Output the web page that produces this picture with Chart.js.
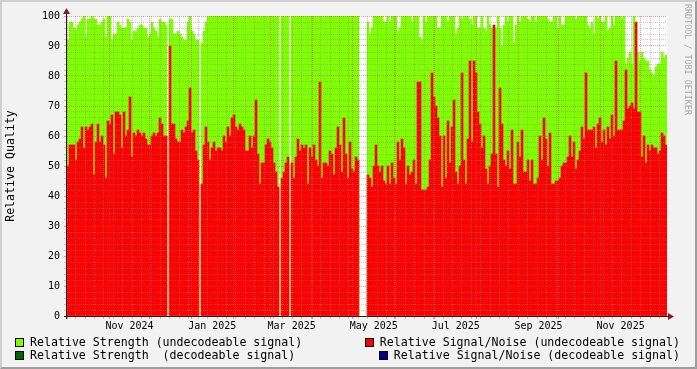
<!DOCTYPE html>
<html lang="en">
<head>
<meta charset="utf-8">
<title>Relative Quality</title>
<script src="https://cdn.jsdelivr.net/npm/chart.js@4"></script>
<style>
  body { margin: 0; background: #f2f2f2; }
  #box { position: relative; width: 697px; height: 369px; background: #f2f2f2; overflow: hidden;
         font-family: 'DejaVu Sans Mono', monospace; }
  #graph { position: absolute; left: 0; top: 0; }
  #shade { position: absolute; left: 0; top: 0; right: 0; bottom: 0; pointer-events: none;
           border: 2px solid; border-color: #cfcfcf #9e9e9e #9e9e9e #cfcfcf; }
  .leg { position: absolute; font-size: 11.6px; line-height: 14px; white-space: pre; color: #000; }
  .leg i { position: absolute; left: -15px; top: 2.5px; width: 7px; height: 7px; border: 1px solid #000; }
  #mark { position: absolute; left: 683px; top: 4px; writing-mode: vertical-rl; font-size: 8.4px;
          line-height: 9px; color: #a8a8a8; white-space: pre; }
</style>
</head>
<body>
<div id="box">
  <canvas id="graph" width="697" height="369"></canvas>
  <div id="legend"></div>
  <div id="mark">RRDTOOL / TOBI OETIKER</div>
  <div id="shade"></div>
</div>
<script>
// one value per 2px column (300 steps), null = no data
const signalNoiseUndecodeable = [
  50, 57, 57, 57, 52, 58, 59, 63, 56, 63,
  62, 63, 64, 47, 58, 64, 58, 60, 57, 46,
  65, 64, 67, 54, 68, 68, 67, 56, 68, 60,
  62, 73, 53, 61, 60, 62, 61, 60, 61, 59,
  57, 57, 60, 61, 60, 61, 66, 64, 60, 60,
  null, 90, 64, 64, 59, 58, 58, 62, 61, 63,
  65, 76, 61, 62, 55, 52, null, 44, 57, 63,
  58, 52, 56, 58, 55, 56, 56, 55, 60, 58,
  63, 60, 66, 67, 63, 62, 64, 63, 62, 55,
  55, 60, 56, 60, 72, 54, 44, 51, 51, 57,
  59, 58, 56, 51, 48, 43, null, 46, 48, 51,
  53, null, 51, 46, 53, 59, 55, 57, 56, 57,
  44, 56, 53, 57, 52, 50, 78, 46, 51, 51,
  50, 55, 54, 47, 56, 63, 57, 48, 66, 54,
  46, 58, 49, 48, 53, 52, null, null, null, null,
  47, 46, 43, 50, 57, 50, 48, 50, 45, 44,
  50, 44, 51, 46, 44, 58, 52, 59, 56, 44,
  50, 47, 48, 52, 44, 78, 78, 42, 42, 42,
  43, 52, 81, 73, 70, 66, 60, 43, 60, 46,
  65, 51, 63, 72, 48, 44, 50, 81, 52, 44,
  59, 85, 58, 85, 81, 68, 64, 56, 60, 49,
  44, 50, 54, 97, 54, 43, 76, 64, 52, 50,
  55, 49, 62, 44, 44, 58, 53, 62, 48, 48,
  52, 45, 52, 44, 44, 46, 60, 52, 66, 59,
  50, 61, 44, 44, 45, 45, 46, 50, 51, 51,
  53, 60, 53, 58, 49, 52, 55, 63, 59, 81,
  62, 62, 62, 63, 56, 64, 66, 58, 62, 57,
  63, 59, 67, 60, 85, 62, 62, 62, 65, 82,
  69, 70, 71, 69, 98, 68, 68, 53, 60, 51,
  57, 55, 57, 56, 56, 54, 55, 61, 60, 57
];
const strengthUndecodeable = [
  92, 98, 98, 96, 95, 97, 98, 99, 100, 93,
  99, 99, 100, 99, 99, 97, 97, 98, 99, 93,
  100, 100, 92, 94, 94, 98, 97, 96, 96, 96,
  99, 98, 92, 95, 95, 96, 97, 97, 96, 96,
  93, 94, 98, 96, 95, 93, 99, 98, 98, 97,
  null, 99, 99, 94, 94, 95, 94, 93, 92, 92,
  98, 100, 95, 94, 92, 92, null, 91, 95, 98,
  100, 100, 100, 100, 100, 100, 100, 100, 100, 100,
  100, 100, 100, 100, 100, 100, 100, 100, 100, 100,
  100, 100, 100, 100, 100, 100, 100, 100, 100, 100,
  100, 100, 100, 100, 100, 100, null, 100, 100, 100,
  100, null, 100, 100, 100, 100, 100, 100, 100, 100,
  100, 100, 100, 100, 100, 100, 100, 100, 100, 100,
  100, 100, 100, 100, 100, 100, 100, 100, 100, 100,
  100, 100, 100, 100, 100, 100, null, null, null, null,
  98, 94, 96, 100, 100, 100, 100, 100, 98, 98,
  100, 98, 100, 100, 100, 95, 96, 100, 100, 100,
  100, 100, 98, 100, 100, 100, 93, 92, 100, 98,
  100, 100, 100, 100, 100, 96, 96, 100, 100, 100,
  98, 100, 100, 100, 94, 96, 100, 99, 100, 100,
  100, 99, 97, 100, 100, 96, 96, 100, 96, 95,
  100, 97, 96, 96, 96, 100, 96, 90, 97, 100,
  98, 100, 100, 91, 97, 100, 98, 100, 100, 100,
  99, 98, 100, 100, 98, 100, 100, 100, 100, 100,
  99, 98, 98, 100, 100, 96, 100, 97, 97, 100,
  100, 100, 100, 100, 99, 100, 100, 100, 100, 100,
  97, 96, 98, 94, 100, 99, 100, 98, 98, 100,
  95, 96, 100, 97, 100, 100, 100, 99, 100, 84,
  86, 88, 84, 100, 98, 88, 85, 88, 86, 85,
  85, 82, 81, 80, 83, 84, 84, 88, 86, 87
];
// nothing decodeable in this period
const strengthDecodeable = [];
const signalNoiseDecodeable = [];

const xLabels = ['Nov 2024', 'Jan 2025', 'Mar 2025', 'May 2025', 'Jul 2025', 'Sep 2025', 'Nov 2025'];
const yTicks = [];
for (let v = 0; v <= 100; v += 2) yTicks.push(v);

// x axis in days since 1 Oct 2024
const DAY0 = Date.UTC(2024, 9, 1);
const spanStart = -0.5, spanEnd = 445.5;
const stepDays = (spanEnd - spanStart) / signalNoiseUndecodeable.length;

const monthStarts = [];
for (let m = 9; m <= 23; m++) monthStarts.push((Date.UTC(2024, m, 1) - DAY0) / 864e5);
const weekStarts = [];
for (let d = 6; d < spanEnd; d += 7) if (!monthStarts.includes(d)) weekStarts.push(d);

const toPoints = arr => arr.map((v, i) => ({ x: spanStart + (i + 0.5) * stepDays, y: v }));

const GRID = 'rgba(143,143,143,0.5)';
const MGRID = 'rgba(222,79,79,0.6)';
const FONT = 'DejaVu Sans Mono';

const rrdCanvas = {
    id: 'rrdCanvas',
    beforeDraw(chart) {
        const { ctx, chartArea: a } = chart;
        ctx.save();
        ctx.fillStyle = '#fff';
        ctx.fillRect(a.left, a.top, a.right - a.left, a.bottom - a.top);
        ctx.restore();
    },
    afterDraw(chart) {
        const { ctx, chartArea: a } = chart;
        const x0 = a.left - 0.5, y0 = a.bottom + 0.5;
        ctx.save();
        ctx.strokeStyle = '#1f1f1f';
        ctx.lineWidth = 1;
        ctx.beginPath();
        ctx.moveTo(a.left - 3, y0); ctx.lineTo(a.right + 2, y0);
        ctx.moveTo(x0, a.bottom + 3); ctx.lineTo(x0, a.top - 4);
        ctx.stroke();
        ctx.fillStyle = '#7f1f1f';
        ctx.beginPath();
        ctx.moveTo(a.right + 1, y0 - 3.5); ctx.lineTo(a.right + 7, y0); ctx.lineTo(a.right + 1, y0 + 3.5);
        ctx.fill();
        ctx.beginPath();
        ctx.moveTo(x0 - 3.5, a.top - 2); ctx.lineTo(x0, a.top - 8); ctx.lineTo(x0 + 3.5, a.top - 2);
        ctx.fill();
        ctx.restore();
    }
};

// all series share one "stack" slot so they overlap like rrdtool AREAs
const graph = new Chart(document.getElementById('graph').getContext('2d'), {
    type: 'bar',
    data: {
        datasets: [
            { label: 'Relative Signal/Noise (undecodeable signal)', data: toPoints(signalNoiseUndecodeable), backgroundColor: '#ff0000', order: 0, stack: 'rrd' },
            { label: 'Relative Signal/Noise (decodeable signal)', data: toPoints(signalNoiseDecodeable), backgroundColor: '#00008b', order: 1, stack: 'rrd' },
            { label: 'Relative Strength  (decodeable signal)', data: toPoints(strengthDecodeable), backgroundColor: '#006400', order: 2, stack: 'rrd' },
            { label: 'Relative Strength (undecodeable signal)', data: toPoints(strengthUndecodeable), backgroundColor: '#7fff00', order: 3, stack: 'rrd' }
        ]
    },
    options: {
        responsive: false,
        animation: false,
        devicePixelRatio: 1,
        layout: { padding: { left: 0, right: 30, top: 16, bottom: 33 } },
        datasets: { bar: { barThickness: 'flex', categoryPercentage: 1, barPercentage: 1, borderWidth: 0 } },
        plugins: { legend: { display: false }, tooltip: { enabled: false } },
        scales: {
            x: {
                type: 'linear',
                min: spanStart,
                max: spanEnd,
                offset: false,
                bounds: 'data',
                afterBuildTicks: axis => {
                    const t = [];
                    weekStarts.forEach(v => t.push({ value: v, kind: 'minor' }));
                    monthStarts.forEach(v => t.push({ value: v, kind: 'major' }));
                    xLabels.forEach((text, k) => t.push({
                        value: (monthStarts[1 + 2 * k] + monthStarts[2 + 2 * k]) / 2, kind: 'label', text
                    }));
                    axis.ticks = t.sort((a, b) => a.value - b.value);
                },
                afterFit: s => { s.height = 20; },
                ticks: {
                    autoSkip: false, maxRotation: 0, padding: 1, color: '#000',
                    font: { family: FONT, size: 10 },
                    callback: (v, i, ticks) => ticks[i].text || ''
                },
                grid: {
                    z: 1, offset: false, tickLength: 3,
                    color: c => !c.tick ? GRID : c.tick.kind === 'label' ? 'rgba(0,0,0,0)' : c.tick.kind === 'major' ? MGRID : GRID
                },
                border: { display: false, dash: [1, 1] }
            },
            y: {
                min: 0,
                max: 100,
                stacked: false,
                afterBuildTicks: axis => { axis.ticks = yTicks.map(v => ({ value: v })); },
                afterFit: s => { s.width = 67; },
                ticks: {
                    autoSkip: false, padding: 4, color: '#000',
                    font: { family: FONT, size: 10 },
                    callback: v => v % 10 === 0 ? String(v) : ''
                },
                grid: {
                    z: 1, tickLength: 3,
                    color: c => c.tick && c.tick.value % 10 === 0 ? MGRID : GRID
                },
                border: { display: false, dash: [1, 1] },
                title: {
                    display: true, text: 'Relative Quality', color: '#000',
                    font: { family: FONT, size: 11.6 }, padding: { top: 4, bottom: 0 }
                }
            }
        }
    },
    plugins: [rrdCanvas]
});

// rrdtool style legend, two columns
const legendSpots = [
    { ds: 3, css: 'left:30px;top:335px' },
    { ds: 0, css: 'right:17px;top:335px' },
    { ds: 2, css: 'left:30px;top:348px' },
    { ds: 1, css: 'right:17px;top:348px' }
];
const legend = document.getElementById('legend');
for (const spot of legendSpots) {
    const ds = graph.data.datasets[spot.ds];
    const el = document.createElement('div');
    el.className = 'leg';
    el.style.cssText = spot.css;
    el.innerHTML = '<i style="background:' + ds.backgroundColor + '"></i>';
    el.appendChild(document.createTextNode(ds.label));
    legend.appendChild(el);
}
</script>
</body>
</html>
